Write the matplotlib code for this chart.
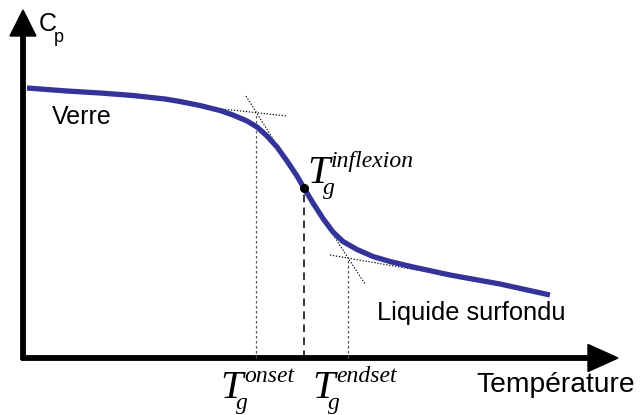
import matplotlib
matplotlib.use("Agg")
import matplotlib.pyplot as plt
from matplotlib.patches import Polygon

# ---- data (x = temperature, y = Cp, arbitrary units) ----
temp = [27, 67, 100, 133, 165, 180, 200, 220, 233, 247, 257, 267, 277, 287,
        297, 304, 313, 323, 333, 343, 357, 373, 390, 413, 450, 500, 550]
cp = [270, 267, 265, 262.5, 259, 256.5, 252.5, 247.5, 243, 237, 231, 222,
      211, 197, 182, 170, 155, 139.5, 126, 116.5, 108.5, 101.5, 96.5, 91,
      83, 74, 63]

t_onset = 256
cp_onset = 245
t_inflexion = 304
cp_inflexion = 170
t_endset = 348
cp_endset = 100

# tangent segments (x pairs, y pairs)
tan_glass_x = [213, 287]
tan_glass_y = [250, 242]
tan_steep1_x = [246, 275]
tan_steep1_y = [262, 216]
tan_liquid_x = [330, 417]
tan_liquid_y = [103, 88]
tan_steep2_x = [328, 365]
tan_steep2_y = [131, 74]

labels = {"glass": "Verre", "liquid": "Liquide surfondu",
          "xlabel": "Température", "ylabel": "C", "ysub": "p"}

# ---- figure ----
fig = plt.figure(figsize=(6.4, 4.15), dpi=100)
ax = fig.add_axes([0, 0, 1, 1])
ax.set_xlim(0, 640)
ax.set_ylim(-57, 358)
ax.axis("off")

sans = "Liberation Sans"
serif = "Liberation Serif"

# axes with arrows
ax.plot([23, 23], [-2, 325], color="black", lw=4.2, solid_capstyle="butt")
ax.plot([21, 592], [0, 0], color="black", lw=4.2, solid_capstyle="butt")
ax.add_patch(Polygon([[23, 348], [10, 322], [36, 322]], closed=True,
                     color="black"))
ax.add_patch(Polygon([[618, 0], [588, 13.5], [588, -13.5]], closed=True,
                     color="black"))

# vertical reference lines
ax.plot([t_onset, t_onset], [0, cp_onset], color="#555555", lw=0.9,
        ls=(0, (2, 2)))
ax.plot([t_endset, t_endset], [0, cp_endset], color="#555555", lw=0.9,
        ls=(0, (2, 2)))
ax.plot([t_inflexion, t_inflexion], [0, cp_inflexion], color="black",
        lw=1.1, ls=(0, (5, 3.5)))

# tangents
for xs, ys in [(tan_glass_x, tan_glass_y), (tan_steep1_x, tan_steep1_y),
               (tan_liquid_x, tan_liquid_y), (tan_steep2_x, tan_steep2_y)]:
    ax.plot(xs, ys, color="black", lw=0.8, ls=(0, (1.2, 1.5)))

# curve
ax.plot(temp, cp, color="#333399", lw=3.8, solid_joinstyle="round",
        solid_capstyle="butt")
ax.plot([t_inflexion], [cp_inflexion], "o", color="black", ms=5.5)

# texts
ax.text(39, 334, labels["ylabel"], fontsize=18, family=sans, va="center",
        ha="left")
ax.text(54, 321, labels["ysub"], fontsize=13, family=sans, va="center",
        ha="left")
ax.text(52, 241, labels["glass"], fontsize=18, family=sans, va="center",
        ha="left")
ax.text(377, 45, labels["liquid"], fontsize=18.3, family=sans, va="center",
        ha="left")
ax.text(476, -27, labels["xlabel"], fontsize=20.3, family=sans,
        va="center", ha="left")


def tg(x, y_base, sup):
    ax.text(x, y_base, "T", fontsize=29, family=serif, style="italic",
            ha="left", va="baseline")
    ax.text(x + 24, y_base + 16, sup, fontsize=17, family=serif,
            style="italic", ha="left", va="baseline")
    ax.text(x + 16, y_base - 11, "g", fontsize=17, family=serif,
            style="italic", ha="left", va="baseline")


tg(220, -40, "onset")
tg(312, -40, "endset")
tg(307, 175, "inflexion")

fig.savefig("out.png", dpi=100)
